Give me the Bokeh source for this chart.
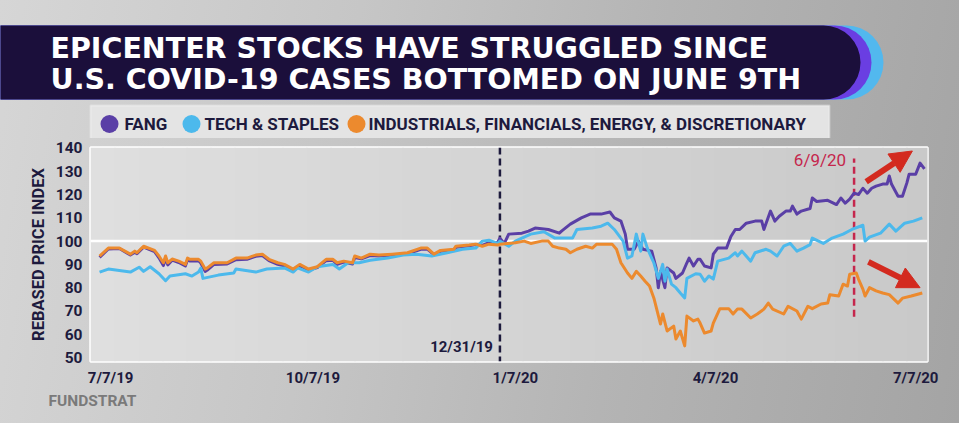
import pandas as pd
from bokeh.plotting import figure
from bokeh.layouts import column
from bokeh.models import (ColumnDataSource, Range1d, FixedTicker, Span, Label,
                          BoxAnnotation, Arrow, NormalHead)
from bokeh.embed import file_html
from bokeh.resources import INLINE

# ---------------- data ----------------
fang_dates = [
    "2019-07-02", "2019-07-06", "2019-07-11", "2019-07-16", "2019-07-18", "2019-07-19", "2019-07-22",
    "2019-07-27", "2019-07-29", "2019-07-31", "2019-08-01", "2019-08-02", "2019-08-04", "2019-08-07",
    "2019-08-10", "2019-08-11", "2019-08-12", "2019-08-16", "2019-08-17", "2019-08-19", "2019-08-20",
    "2019-08-23", "2019-08-29", "2019-09-02", "2019-09-07", "2019-09-11", "2019-09-14", "2019-09-17",
    "2019-09-21", "2019-09-24", "2019-09-28", "2019-10-01", "2019-10-05", "2019-10-09", "2019-10-13",
    "2019-10-16", "2019-10-18", "2019-10-21", "2019-10-25", "2019-10-26", "2019-10-29", "2019-11-02",
    "2019-11-06", "2019-11-12", "2019-11-19", "2019-11-25", "2019-11-28", "2019-12-01", "2019-12-04",
    "2019-12-10", "2019-12-11", "2019-12-17", "2019-12-20", "2019-12-23", "2019-12-26", "2019-12-30",
    "2019-12-31", "2020-01-02", "2020-01-04", "2020-01-10", "2020-01-13", "2020-01-16", "2020-01-22",
    "2020-01-27", "2020-01-28", "2020-02-01", "2020-02-06", "2020-02-10", "2020-02-15", "2020-02-19",
    "2020-02-21", "2020-02-24", "2020-02-26", "2020-02-27", "2020-03-01", "2020-03-03", "2020-03-05",
    "2020-03-09", "2020-03-11", "2020-03-12", "2020-03-13", "2020-03-15", "2020-03-16", "2020-03-19",
    "2020-03-20", "2020-03-23", "2020-03-25", "2020-03-26", "2020-03-28", "2020-03-30", "2020-03-31",
    "2020-04-02", "2020-04-05", "2020-04-06", "2020-04-08", "2020-04-12", "2020-04-14", "2020-04-16",
    "2020-04-18", "2020-04-21", "2020-04-25", "2020-04-28", "2020-04-29", "2020-05-02", "2020-05-04",
    "2020-05-06", "2020-05-09", "2020-05-11", "2020-05-12", "2020-05-14", "2020-05-16", "2020-05-20",
    "2020-05-21", "2020-05-23", "2020-05-28", "2020-06-01", "2020-06-03", "2020-06-05", "2020-06-07",
    "2020-06-09", "2020-06-11", "2020-06-13", "2020-06-15", "2020-06-17", "2020-06-19", "2020-06-22",
    "2020-06-24", "2020-06-25", "2020-06-26", "2020-06-29", "2020-07-01", "2020-07-03", "2020-07-04",
    "2020-07-07", "2020-07-09", "2020-07-11",
]
fang_values = [
    93.0, 96.6, 96.8, 94.0, 95.2, 94.6, 97.4,
    95.5, 92.8, 89.5, 92.6, 89.8, 91.8, 90.8,
    89.3, 92.0, 91.5, 91.6, 90.6, 87.0, 87.6,
    90.0, 90.2, 92.0, 92.2, 93.5, 93.8, 91.6,
    90.0, 89.4, 87.5, 89.5, 87.6, 88.6, 91.6,
    91.8, 90.0, 91.0, 90.2, 93.0, 92.4, 93.8,
    93.6, 94.0, 94.5, 96.5, 96.6, 94.2, 95.6,
    96.0, 97.4, 98.0, 98.5, 98.2, 99.3, 99.5,
    101.3, 99.0, 103.0, 103.4, 104.3, 105.6, 105.0,
    103.4, 104.3, 107.3, 110.0, 111.6, 111.6, 112.5,
    110.0, 108.6, 103.0, 96.5, 96.5, 100.0, 96.5,
    95.7, 88.5, 80.0, 87.0, 80.0, 88.5, 86.3,
    84.0, 86.3, 90.7, 92.7, 89.3, 92.2, 92.2,
    89.3, 88.5, 94.4, 97.0, 97.0, 102.0, 105.0,
    105.0, 107.7, 108.6, 108.6, 105.0, 112.9, 108.6,
    110.7, 112.9, 112.9, 115.0, 111.6, 112.9, 114.0,
    118.5, 117.0, 117.5, 115.7, 118.5, 116.3, 118.0,
    120.6, 120.0, 122.7, 120.6, 122.7, 123.6, 124.5,
    124.5, 128.0, 124.5, 119.3, 119.3, 125.0, 128.7,
    128.7, 133.5, 131.0,
]

tech_dates = [
    "2019-07-02", "2019-07-06", "2019-07-16", "2019-07-20", "2019-07-22", "2019-07-25", "2019-07-29",
    "2019-08-01", "2019-08-03", "2019-08-10", "2019-08-13", "2019-08-16", "2019-08-17", "2019-08-18",
    "2019-08-25", "2019-09-01", "2019-09-02", "2019-09-11", "2019-09-16", "2019-09-24", "2019-09-28",
    "2019-09-30", "2019-10-05", "2019-10-09", "2019-10-16", "2019-10-19", "2019-10-23", "2019-10-28",
    "2019-11-02", "2019-11-10", "2019-11-17", "2019-11-23", "2019-11-30", "2019-12-07", "2019-12-14",
    "2019-12-20", "2019-12-23", "2019-12-26", "2019-12-30", "2019-12-31", "2020-01-04", "2020-01-07",
    "2020-01-14", "2020-01-20", "2020-01-25", "2020-02-02", "2020-02-04", "2020-02-11", "2020-02-15",
    "2020-02-18", "2020-02-21", "2020-02-25", "2020-02-27", "2020-02-29", "2020-03-02", "2020-03-04",
    "2020-03-05", "2020-03-07", "2020-03-09", "2020-03-10", "2020-03-12", "2020-03-14", "2020-03-15",
    "2020-03-16", "2020-03-18", "2020-03-20", "2020-03-22", "2020-03-24", "2020-03-25", "2020-03-29",
    "2020-03-31", "2020-04-02", "2020-04-04", "2020-04-06", "2020-04-08", "2020-04-13", "2020-04-16",
    "2020-04-17", "2020-04-19", "2020-04-23", "2020-04-25", "2020-04-30", "2020-05-02", "2020-05-05",
    "2020-05-08", "2020-05-11", "2020-05-14", "2020-05-17", "2020-05-20", "2020-05-21", "2020-05-26",
    "2020-05-30", "2020-06-04", "2020-06-08", "2020-06-13", "2020-06-14", "2020-06-16", "2020-06-21",
    "2020-06-25", "2020-06-28", "2020-07-02", "2020-07-06", "2020-07-10",
]
tech_values = [
    86.7, 88.0, 86.7, 88.8, 87.0, 89.0, 86.0,
    83.0, 85.0, 86.0, 85.0, 86.7, 88.4, 84.0,
    85.4, 86.3, 88.0, 86.7, 88.0, 88.5, 86.7,
    88.5, 86.7, 89.0, 90.0, 88.0, 90.7, 90.7,
    91.8, 92.7, 94.0, 94.4, 93.6, 95.0, 96.5,
    97.0, 100.0, 100.4, 99.0, 100.0, 97.8, 100.0,
    103.0, 104.0, 101.3, 101.3, 105.0, 105.6, 106.4,
    107.7, 105.0, 100.0, 92.7, 93.6, 103.0, 95.7,
    103.0, 97.0, 92.7, 90.6, 84.0, 90.0, 82.8,
    88.0, 81.5, 80.0, 77.7, 75.6, 84.0, 86.0,
    85.8, 82.8, 85.0, 83.7, 91.4, 92.7, 95.0,
    93.6, 95.7, 91.4, 95.0, 96.5, 95.7, 93.6,
    97.8, 99.0, 95.7, 97.0, 98.5, 101.3, 99.0,
    101.3, 103.0, 105.0, 106.8, 100.0, 101.7, 103.4,
    107.3, 104.3, 107.7, 108.6, 110.0,
]

epic_dates = [
    "2019-07-02", "2019-07-06", "2019-07-11", "2019-07-16", "2019-07-18", "2019-07-19", "2019-07-22",
    "2019-07-27", "2019-07-29", "2019-07-31", "2019-08-01", "2019-08-02", "2019-08-04", "2019-08-07",
    "2019-08-10", "2019-08-11", "2019-08-12", "2019-08-16", "2019-08-17", "2019-08-19", "2019-08-20",
    "2019-08-23", "2019-08-29", "2019-09-02", "2019-09-07", "2019-09-11", "2019-09-14", "2019-09-17",
    "2019-09-21", "2019-09-24", "2019-09-28", "2019-10-01", "2019-10-05", "2019-10-09", "2019-10-13",
    "2019-10-16", "2019-10-18", "2019-10-21", "2019-10-25", "2019-10-26", "2019-10-29", "2019-11-02",
    "2019-11-06", "2019-11-12", "2019-11-19", "2019-11-25", "2019-11-28", "2019-12-01", "2019-12-04",
    "2019-12-10", "2019-12-11", "2019-12-17", "2019-12-20", "2019-12-23", "2019-12-26", "2019-12-30",
    "2019-12-31", "2020-01-07", "2020-01-11", "2020-01-14", "2020-01-19", "2020-01-22", "2020-01-24",
    "2020-01-27", "2020-01-30", "2020-02-01", "2020-02-04", "2020-02-08", "2020-02-11", "2020-02-13",
    "2020-02-17", "2020-02-20", "2020-02-22", "2020-02-24", "2020-02-27", "2020-02-29", "2020-03-02",
    "2020-03-04", "2020-03-06", "2020-03-08", "2020-03-10", "2020-03-13", "2020-03-14", "2020-03-16",
    "2020-03-19", "2020-03-20", "2020-03-22", "2020-03-24", "2020-03-25", "2020-03-28", "2020-03-30",
    "2020-03-31", "2020-04-02", "2020-04-05", "2020-04-06", "2020-04-09", "2020-04-13", "2020-04-15",
    "2020-04-17", "2020-04-19", "2020-04-23", "2020-04-26", "2020-04-29", "2020-05-01", "2020-05-03",
    "2020-05-08", "2020-05-10", "2020-05-14", "2020-05-16", "2020-05-19", "2020-05-21", "2020-05-25",
    "2020-05-28", "2020-05-29", "2020-06-02", "2020-06-04", "2020-06-06", "2020-06-07", "2020-06-10",
    "2020-06-11", "2020-06-13", "2020-06-14", "2020-06-16", "2020-06-19", "2020-06-22", "2020-06-25",
    "2020-06-29", "2020-07-01", "2020-07-05", "2020-07-10",
]
epic_values = [
    93.6, 97.0, 97.0, 94.4, 95.7, 95.0, 97.8,
    96.0, 93.6, 90.7, 93.6, 90.7, 92.3, 91.4,
    90.0, 92.7, 92.2, 92.2, 91.4, 88.0, 88.5,
    90.7, 90.7, 92.7, 92.7, 94.0, 94.4, 92.2,
    90.7, 90.0, 88.0, 90.0, 88.0, 89.0, 92.2,
    92.2, 90.7, 91.4, 90.7, 93.6, 92.7, 94.4,
    94.0, 94.4, 95.0, 97.0, 97.0, 94.4, 96.0,
    96.5, 97.8, 98.3, 98.7, 97.8, 98.7, 98.3,
    98.7, 99.3, 100.0, 99.0, 100.0, 100.0, 97.8,
    97.0, 96.5, 95.0, 96.5, 97.8, 97.0, 98.7,
    98.7, 98.7, 96.5, 90.7, 86.3, 84.0, 87.0,
    85.0, 82.8, 80.7, 75.5, 64.4, 68.7, 61.4,
    63.5, 58.0, 61.4, 55.0, 67.8, 65.7, 66.5,
    64.8, 60.5, 61.4, 64.8, 71.0, 71.0, 68.7,
    70.8, 70.8, 67.0, 68.7, 70.8, 73.4, 70.8,
    68.7, 72.0, 70.0, 66.5, 72.0, 71.0, 73.0,
    73.4, 77.0, 76.4, 81.5, 80.7, 85.8, 86.3,
    83.7, 79.4, 76.4, 80.0, 78.6, 77.7, 77.0,
    73.4, 75.5, 76.4, 77.7,
]

series_names = ["FANG", "TECH & STAPLES", "INDUSTRIALS, FINANCIALS, ENERGY, & DISCRETIONARY"]

x_tick_dates = ["2019-07-07", "2019-10-07", "2020-01-07", "2020-04-07", "2020-07-07"]
x_tick_labels = ["7/7/19", "10/7/19", "1/7/20", "4/7/20", "7/7/20"]
y_ticks = [50, 60, 70, 80, 90, 100, 110, 120, 130, 140]

marker_dates = ["2019-12-31", "2020-06-09"]
marker_labels = ["12/31/19", "6/9/20"]
june_line_values = [67.5, 135.5]
baseline_value = 100

# arrows: (start date, start value, end date, end value)
arrow_up = ("2020-06-14 12:00", 125.5, "2020-07-05 12:00", 138.7)
arrow_down = ("2020-06-15 12:00", 91.1, "2020-07-09 00:00", 80.0)

title_lines = ["EPICENTER STOCKS HAVE STRUGGLED SINCE",
               "U.S. COVID-19 CASES BOTTOMED ON JUNE 9TH"]
y_axis_title = "REBASED PRICE INDEX"
source_text = "FUNDSTRAT"

# ---------------- styling ----------------
FANG_C = "#5a3fa6"
TECH_C = "#4cb9ec"
EPIC_C = "#ec8a2e"
NAVY = "#1d1a3d"
CRIMSON = "#c5264c"
ARROW_C = "#d32a1f"

W = 959
HEAD_TOP, CHART_TOP, FOOT_TOP, BOTTOM = 0, 138, 389, 423
FL, FR, FT, FB = 90, 927, 147, 363            # chart frame edges in page pixels


def ms(d):
    return pd.Timestamp(d).value / 1e6


def lerp_gray(x, x0, x1, g0, g1):
    t = min(max((x - x0) / (x1 - x0), 0), 1)
    v = int(round(g0 + (g1 - g0) * t))
    return "#%02x%02x%02x" % (v, v, v)


def canvas_fig(y_top, y_bottom):
    """Figure whose frame fills it, with data units = page pixels (y downward)."""
    f = figure(width=W, height=y_bottom - y_top, x_range=Range1d(0, W),
               y_range=Range1d(y_bottom, y_top),
               output_backend="svg", toolbar_location=None,
               x_axis_location=None, y_axis_location=None,
               min_border=0, min_border_left=0, min_border_right=0,
               min_border_top=0, min_border_bottom=0, frame_align=False)
    f.xgrid.visible = False
    f.ygrid.visible = False
    f.outline_line_color = None
    f.background_fill_color = None
    f.border_fill_color = None
    return f


# ================= header: banner + legend =================
head = canvas_fig(HEAD_TOP, CHART_TOP)


def hbox(l, r, t, b, **kw):
    head.add_layout(BoxAnnotation(left=l, right=r, top=t, bottom=b, level="underlay", **kw))


hbox(-20, 883, 25, 99, fill_color="#52b8ee", line_color=None, fill_alpha=1, border_radius=(0, 37, 37, 0))
hbox(-20, 871, 25, 99, fill_color="#6a3ee2", line_color=None, fill_alpha=1, border_radius=(0, 37, 37, 0))
hbox(-20, 860, 25, 99, fill_color="#1b0f3b", line_color=None, fill_alpha=1, border_radius=(0, 37, 37, 0))
for txt, mid in zip(title_lines, [47.5, 79]):
    head.add_layout(Label(x=50, y=mid, text=txt, text_font="DejaVu Sans",
                          text_font_style="bold", text_font_size="28.5px",
                          text_color="white", text_baseline="middle"))

hbox(FL, 829, 105, 139, fill_color="#e4e4e4", line_color="white", line_width=2, fill_alpha=1)
dot_src = ColumnDataSource(dict(x=[109, 191, 356], y=[123.5, 123.5, 123.5],
                                c=[FANG_C, TECH_C, EPIC_C]))
head.scatter("x", "y", source=dot_src, size=18, fill_color="c", line_color=None)
for name, txt_x in zip(series_names, [124, 204, 368]):
    head.add_layout(Label(x=txt_x, y=123.5, text=name, text_font="Roboto",
                          text_font_style="bold", text_font_size="17px",
                          text_color=NAVY, text_baseline="middle"))

# ================= chart =================
p = figure(width=W, height=FOOT_TOP - CHART_TOP, x_axis_type="datetime",
           x_range=Range1d(pd.Timestamp("2019-06-27 21:00"), pd.Timestamp("2020-07-12 09:00")),
           y_range=Range1d(48.3, 140.2),
           output_backend="svg", toolbar_location=None, frame_align=False,
           min_border_left=FL, min_border_right=W - FR,
           min_border_top=FT - CHART_TOP, min_border_bottom=FOOT_TOP - FB)
p.border_fill_color = None
p.background_fill_color = "#d8d8d8"
p.outline_line_color = "white"
p.outline_line_width = 2.5
p.xgrid.visible = False
p.ygrid.visible = False

# interior shading
for x0 in range(FL, FR, 24):
    p.add_layout(BoxAnnotation(left=x0 - FL, right=x0 - FL + 25, left_units="screen",
                               right_units="screen", fill_color=lerp_gray(x0 + 12, FL, FR, 0xdf, 0xc9),
                               line_color=None, fill_alpha=1, level="underlay"))

p.add_layout(Span(location=baseline_value, dimension="width", line_color="white",
                  line_width=2.5, level="underlay"))
p.add_layout(Span(location=ms(marker_dates[0]), dimension="height", line_color=NAVY,
                  line_width=2.5, line_dash="7 4", level="underlay"))

jsrc = ColumnDataSource(dict(x=[pd.Timestamp(marker_dates[1])], y0=[june_line_values[0]],
                             y1=[june_line_values[1]]))
p.segment(x0="x", y0="y0", x1="x", y1="y1", source=jsrc, line_color=CRIMSON,
          line_width=2.5, line_dash="7 4")

for dates, vals, col in [(fang_dates, fang_values, FANG_C),
                         (tech_dates, tech_values, TECH_C),
                         (epic_dates, epic_values, EPIC_C)]:
    src = ColumnDataSource(dict(date=pd.to_datetime(dates), value=vals))
    p.line("date", "value", source=src, line_color=col, line_width=3, line_join="round")

p.add_layout(Label(x=ms(marker_dates[0]), y=FB - 348.5, y_units="screen", x_offset=-7,
                   text=marker_labels[0], text_align="right", text_baseline="middle",
                   text_font="Roboto", text_font_style="bold", text_font_size="15px",
                   text_color=NAVY))
p.add_layout(Label(x=ms(marker_dates[1]), y=FB - 161, y_units="screen", x_offset=-8,
                   text=marker_labels[1], text_align="right", text_baseline="middle",
                   text_font="Roboto", text_font_size="17px", text_color=CRIMSON))

for a in (arrow_up, arrow_down):
    p.add_layout(Arrow(x_start=ms(a[0]), y_start=a[1], x_end=ms(a[2]), y_end=a[3],
                       line_color=ARROW_C, line_width=6,
                       end=NormalHead(size=22, fill_color=ARROW_C, line_color=ARROW_C)))

tick_ms = [ms(d) for d in x_tick_dates]
xa = p.xaxis[0]
xa.ticker = FixedTicker(ticks=tick_ms)
xa.major_label_overrides = {t: l for t, l in zip(tick_ms, x_tick_labels)}
ya = p.yaxis[0]
ya.ticker = FixedTicker(ticks=y_ticks)
ya.axis_label = y_axis_title
for ax in (xa, ya):
    ax.axis_line_color = None
    ax.major_tick_line_color = None
    ax.minor_tick_line_color = None
    ax.major_tick_out = 0
    ax.major_tick_in = 0
    ax.minor_tick_out = 0
    ax.major_label_text_font = "Roboto"
    ax.major_label_text_font_style = "bold"
    ax.major_label_text_color = NAVY
xa.major_label_text_font_size = "15px"
xa.major_label_standoff = 7
ya.major_label_text_font_size = "15.5px"
ya.major_label_standoff = 8
ya.axis_label_text_font = "Roboto"
ya.axis_label_text_font_style = "bold"
ya.axis_label_text_font_size = "16.5px"
ya.axis_label_text_color = NAVY
ya.axis_label_standoff = 5

# ================= footer =================
foot = canvas_fig(FOOT_TOP, BOTTOM)
foot.add_layout(Label(x=48, y=400, text=source_text, text_font="Roboto",
                      text_font_style="bold", text_font_size="15.5px",
                      text_color="#7a7a7a", text_baseline="middle"))

layout = column(head, p, foot, spacing=0,
                styles={"background": "linear-gradient(100deg, #d6d6d6 0%, #c6c6c6 35%, "
                                      "#b4b4b4 65%, #a4a4a4 100%)"})

open("out.html", "w").write(file_html(layout, INLINE))
